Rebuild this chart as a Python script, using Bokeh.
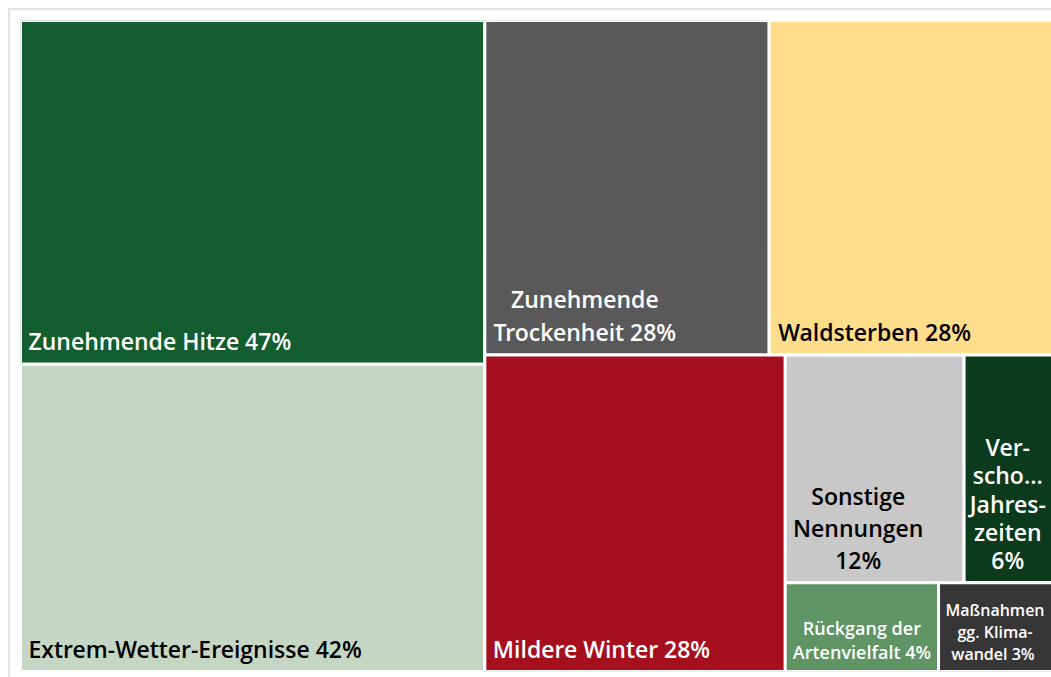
from bokeh.plotting import figure
from bokeh.models import ColumnDataSource, Range1d
from bokeh.core.properties import value
from bokeh.embed import file_html
from bokeh.resources import INLINE

# ---------------- data ----------------
categories = [
    "Zunehmende Hitze", "Extrem-Wetter-Ereignisse", "Zunehmende Trockenheit",
    "Waldsterben", "Mildere Winter", "Sonstige Nennungen",
    "Verschobene Jahreszeiten", "Rückgang der Artenvielfalt",
    "Maßnahmen gg. Klimawandel",
]
percent = [47, 42, 28, 28, 28, 12, 6, 4, 3]
labels = [
    "Zunehmende Hitze 47%",
    "Extrem-Wetter-Ereignisse 42%",
    "Zunehmende\nTrockenheit 28%",
    "Waldsterben 28%",
    "Mildere Winter 28%",
    "Sonstige\nNennungen\n12%",
    "Ver-\nscho...\nJahres-\nzeiten\n6%",
    "Rückgang der\nArtenvielfalt 4%",
    "Maßnahmen\ngg. Klima-\nwandel  3%",
]
# treemap strips (indices of categories laid out together)
groups = [[0, 1], [2, 3], [4], [5, 6], [7, 8]]

# ---------------- style ----------------
colors = ["#135D2F", "#C5D7C4", "#595959", "#FFDD8A", "#A50F1E",
          "#C8C8C8", "#0B3A1C", "#5F9464", "#363636"]
text_colors = ["white", "black", "white", "black", "white",
               "black", "white", "white", "white"]
# label anchoring: ("left", px from cell left) / ("center", px from cell left or None = cell centre)
anchors = [("left", 8), ("left", 8), ("center", 100), ("left", 9), ("left", 8),
           ("center", 73), ("center", None), ("center", None), ("center", None)]
font_sizes = ["23px"] * 7 + ["18px", "16px"]
font_styles = ["normal"] * 9
line_heights = [1.0, 1.0, 1.04, 1.0, 1.0, 1.0, 0.88, 1.02, 1.0]

# treemap canvas (the right edge runs slightly past the visible area, as in the original)
W, H = 1033.0, 651.0
VISIBLE_W = 1031.0


def treemap(vals, groups, x, y, w, h):
    rects = [None] * len(vals)
    for gi, grp in enumerate(groups):
        total = sum(vals[i] for g in groups[gi:] for i in g)
        s = sum(vals[i] for i in grp)
        last = gi == len(groups) - 1
        if last:
            horizontal = w >= h  # split along longer side
            gx, gy, gw, gh = x, y, w, h
        elif w >= h:
            horizontal = False  # column on the left, items stacked
            gw = w * s / total
            gx, gy, gh = x, y, h
            x, w = x + gw, w - gw
        else:
            horizontal = True  # row on top, items side by side
            gh = h * s / total
            gx, gy, gw = x, y, w
            y, h = y + gh, h - gh
        cx, cy = gx, gy
        for i in grp:
            f = vals[i] / s
            if horizontal:
                rects[i] = (cx, cy, cx + gw * f, cy + gh)
                cx += gw * f
            else:
                rects[i] = (cx, cy, cx + gw, cy + gh * f)
                cy += gh * f
    return rects


rects = treemap(percent, groups, 0.0, 0.0, W, H)

left = [r[0] for r in rects]
top = [r[1] for r in rects]
right = [r[2] for r in rects]
bottom = [r[3] for r in rects]

tx, txoff, talign = [], [], []
for r, (mode, dx) in zip(rects, anchors):
    if mode == "left":
        tx.append(r[0]); txoff.append(dx); talign.append("left")
    else:
        if dx is None:
            tx.append((r[0] + min(r[2], VISIBLE_W)) / 2); txoff.append(0)
        else:
            tx.append(r[0]); txoff.append(dx)
        talign.append("center")

src = ColumnDataSource(dict(
    left=left, right=right, top=top, bottom=bottom, color=colors,
    name=categories, pct=percent, label=labels, tx=tx, ty=bottom,
    txoff=txoff, talign=talign, tcolor=text_colors, fs=font_sizes,
    fst=font_styles, lh=line_heights,
))

p = figure(width=1043, height=669, output_backend="svg", toolbar_location=None,
           x_range=Range1d(0, VISIBLE_W), y_range=Range1d(H, 0),
           min_border_left=12, min_border_top=12, min_border_right=0,
           min_border_bottom=6)
p.axis.visible = False
p.grid.visible = False
p.outline_line_color = None
p.background_fill_color = "white"
p.border_fill_color = None
p.styles = {"margin": "8px 0 0 8px", "box-shadow": "inset 2px 2px 0 0 #e4e4e4"}

p.quad(left="left", right="right", top="top", bottom="bottom", source=src,
       fill_color="color", line_color="white", line_width=3)

p.text(x="tx", y="ty", text="label", source=src, x_offset="txoff", y_offset=-7,
       text_align="talign", text_baseline="bottom", text_color="tcolor",
       text_font=value("Open Sans SemiBold, Open Sans"), text_font_size="fs",
       text_font_style="fst", text_line_height="lh")

open("out.html", "w").write(file_html(p, INLINE))
